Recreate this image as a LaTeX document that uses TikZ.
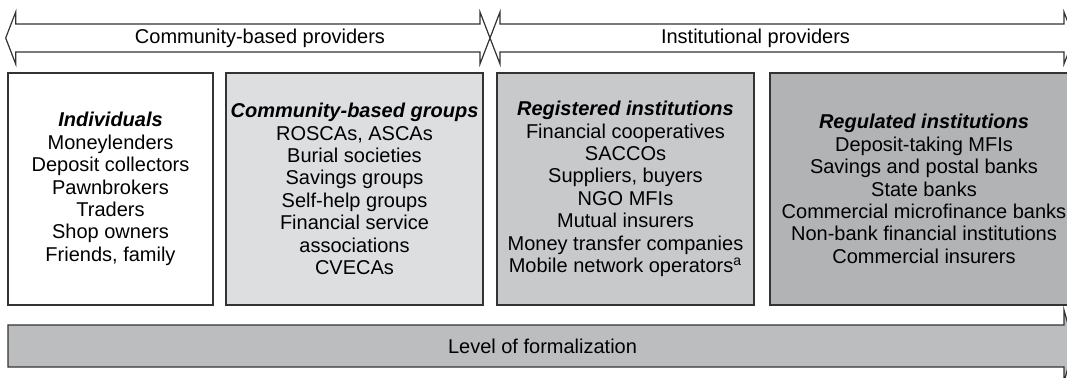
\documentclass[tikz,border=0pt]{standalone}
\usepackage{fontspec}
\setmainfont{Liberation Sans}
\definecolor{frame}{HTML}{333333}
\definecolor{groupgray}{HTML}{DDDEE0}
\definecolor{reggray}{HTML}{C8C9CB}
\definecolor{regulgray}{HTML}{B2B3B5}
\definecolor{formgray}{HTML}{BCBDBF}

\begin{document}
\begin{tikzpicture}[
  x=0.5pt, y=-0.5pt,
  band/.style={draw=frame, line width=0.6pt, line join=miter},
  box/.style={draw=frame, line width=0.6pt, align=center, inner sep=0pt,
    minimum height=116pt, font=\fontsize{10}{11.2}\selectfont},
  lab/.style={inner sep=0pt, font=\fontsize{10}{12}\selectfont}
]
\useasboundingbox (0,0) rectangle (1067,377);

% --- Provider arrows (top) ---
\draw[band, fill=white] (5.7,38) -- (15.7,12) -- (15.7,24) -- (480,24) -- (480,12)
  -- (490,38) -- (480,64) -- (480,52) -- (15.7,52) -- (15.7,64) -- cycle;
\draw[band, fill=white] (490,38) -- (500,12) -- (500,24) -- (1064,24) -- (1064,12)
  -- (1074,38) -- (1064,64) -- (1064,52) -- (500,52) -- (500,64) -- cycle;
\node[lab] (cbp) at (260,38) {Community-based providers};
\node[lab] (inp) at (755.5,38) {Institutional providers};

% --- Provider boxes ---
\node[box, minimum width=102.5pt] (indiv) at (110.5,189)
  {{\bfseries\itshape Individuals}\\ Moneylenders\\ Deposit collectors\\ Pawnbrokers\\
   Traders\\ Shop owners\\ Friends, family};
\node[box, fill=groupgray, minimum width=128.5pt] (group) at (354.5,189)
  {{\bfseries\itshape Community-based groups}\\ ROSCAs, ASCAs\\ Burial societies\\
   Savings groups\\ Self-help groups\\ Financial service\\ associations\\ CVECAs};
\node[box, fill=reggray, minimum width=128.5pt] (regis) at (625.5,189)
  {{\bfseries\itshape Registered institutions}\\ Financial cooperatives\\ SACCOs\\
   Suppliers, buyers\\ NGO MFIs\\ Mutual insurers\\ Money transfer companies\\
   Mobile network operators\textsuperscript{a}};
\node[box, fill=regulgray, minimum width=154pt] (regul) at (924,189)
  {{\bfseries\itshape Regulated institutions}\\ Deposit-taking MFIs\\
   Savings and postal banks\\ State banks\\ Commercial microfinance banks\\
   Non-bank financial institutions\\ Commercial insurers};

% --- Formalization arrow (bottom) ---
\draw[band, fill=formgray] (8,325) -- (1064,325) -- (1064,310) -- (1074,346)
  -- (1064,382) -- (1064,367) -- (8,367) -- cycle;
\node[lab] (form) at (542.5,346) {Level of formalization};

\end{tikzpicture}
\end{document}
